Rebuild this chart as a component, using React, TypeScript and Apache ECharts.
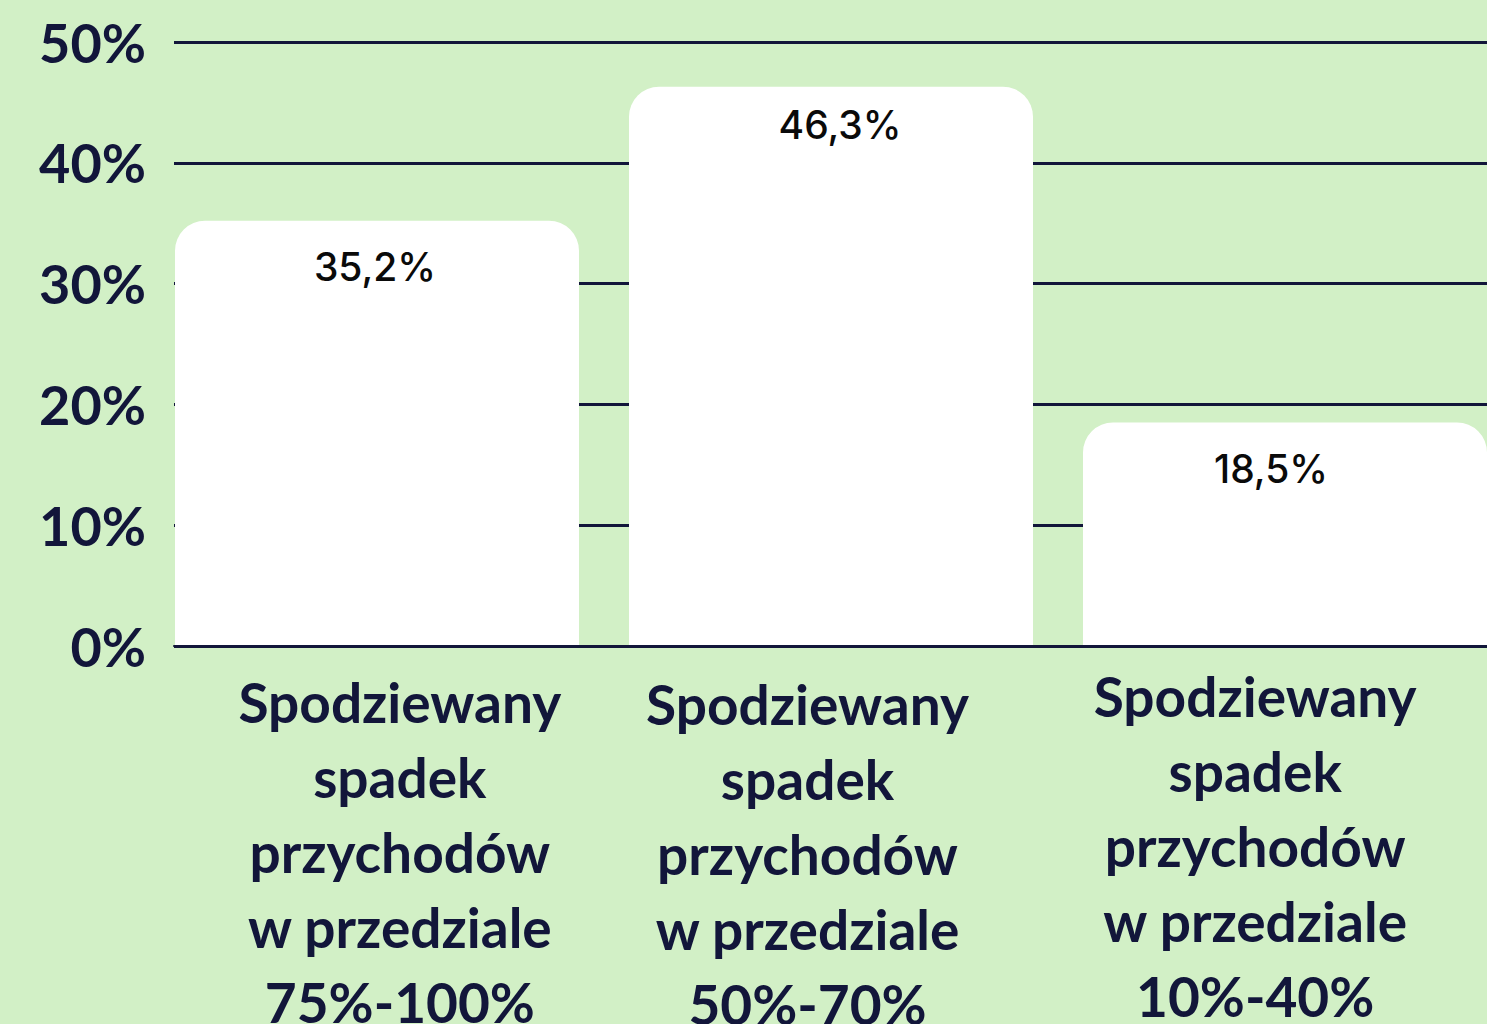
import React, { useEffect, useRef } from "react";
import * as echarts from "echarts";

const categories = [
  "Spodziewany\nspadek\nprzychodów\nw przedziale\n75%-100%",
  "Spodziewany\nspadek\nprzychodów\nw przedziale\n50%-70%",
  "Spodziewany\nspadek\nprzychodów\nw przedziale\n10%-40%",
];
const values = [35.2, 46.3, 18.5];
const valueLabels = ["35,2%", "46,3%", "18,5%"];
const labelPaddings = [
  [6, 0, 0, 14],
  [8, 46, 0, 0],
  [0, 26, 0, 0],
];
const valueLabelOffsets = [
  [-2, 0],
  [9, -8],
  [-14, 0],
];

const BG = "#d2f0c6";
const INK = "#12163a";

export default function App() {
  const ref = useRef<HTMLDivElement>(null);
  useEffect(() => {
    if (!ref.current) return;
    const chart = echarts.init(ref.current, undefined, { renderer: "svg" });
    chart.setOption({
      animation: false,
      backgroundColor: BG,
      grid: [
        { left: 174, right: 0, top: 42, bottom: 378, outerBoundsMode: "none", containLabel: false },
        { left: 150, right: -25, top: 42, bottom: 378, outerBoundsMode: "none", containLabel: false },
      ],
      xAxis: [
        {
          type: "category",
          gridIndex: 0,
          data: categories.map((c, i) => ({
            value: c,
            textStyle: { padding: labelPaddings[i] },
          })),
          axisTick: { show: false },
          axisLine: { show: true, lineStyle: { color: INK, width: 2 } },
          z: 5,
          axisLabel: {
            interval: 0,
            margin: 12,
            color: INK,
            fontFamily: "Lato",
            fontWeight: "bold",
            fontSize: 55,
            lineHeight: 75,
            align: "center",
          },
        },
        {
          type: "category",
          gridIndex: 1,
          data: categories,
          show: false,
        },
      ],
      yAxis: [
        {
          type: "value",
          gridIndex: 0,
          min: 0,
          max: 50,
          interval: 10,
          axisLine: { show: false },
          axisTick: { show: false },
          splitLine: { show: true, lineStyle: { color: INK, width: 3 } },
          axisLabel: {
            formatter: "{value}%",
            margin: 28,
            color: INK,
            fontFamily: "Lato",
            fontWeight: "bold",
            fontSize: 54,
            padding: [0, 0, 6, 0],
          },
        },
        {
          type: "value",
          gridIndex: 1,
          min: 0,
          max: 50,
          interval: 10,
          show: false,
          splitLine: { show: false },
        },
      ],
      series: [
        {
          type: "bar",
          xAxisIndex: 1,
          yAxisIndex: 1,
          data: values.map((v, i) => ({
            value: v,
            label: { offset: valueLabelOffsets[i] },
          })),
          barWidth: 404,
          itemStyle: { color: "#ffffff", borderRadius: [30, 30, 0, 0] },
          label: {
            show: true,
            position: "insideTop",
            distance: 26,
            formatter: (p: any) => valueLabels[p.dataIndex],
            color: "#0a0a0a",
            fontFamily: "Inter",
            fontWeight: 500,
            fontSize: 39,
          },
        },
      ],
    });
    return () => chart.dispose();
  }, []);
  return (
    <div
      ref={ref}
      style={{ position: "absolute", left: 0, top: 0, width: 1487, height: 1024 }}
    />
  );
}
